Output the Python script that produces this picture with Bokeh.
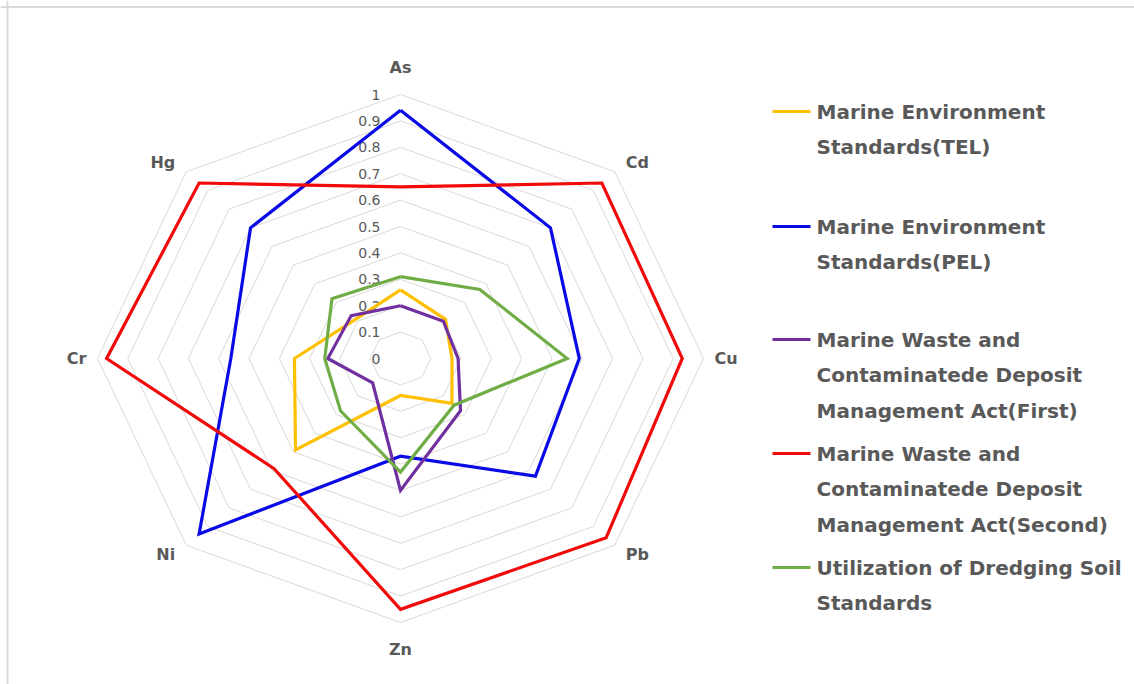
import numpy as np
from bokeh.plotting import figure
from bokeh.models import Range1d
from bokeh.core.properties import value
from bokeh.embed import file_html
from bokeh.resources import INLINE

# --- data -------------------------------------------------------------
categories = ["As", "Cd", "Cu", "Pb", "Zn", "Ni", "Cr", "Hg"]
tick_values = [0.0, 0.1, 0.2, 0.3, 0.4, 0.5, 0.6, 0.7, 0.8, 0.9, 1.0]
tick_labels = ["0", "0.1", "0.2", "0.3", "0.4", "0.5", "0.6", "0.7", "0.8", "0.9", "1"]

series_names = [
    ["Marine Environment", "Standards(TEL)"],
    ["Marine Environment", "Standards(PEL)"],
    ["Marine Waste and", "Contaminatede Deposit", "Management Act(First)"],
    ["Marine Waste and", "Contaminatede Deposit", "Management Act(Second)"],
    ["Utilization of Dredging Soil", "Standards"],
]
tel = [0.26, 0.21, 0.17, 0.24, 0.14, 0.49, 0.35, 0.21]
pel = [0.94, 0.70, 0.59, 0.63, 0.37, 0.94, 0.56, 0.70]
first_act = [0.20, 0.20, 0.19, 0.28, 0.50, 0.13, 0.24, 0.23]
second_act = [0.65, 0.94, 0.93, 0.96, 0.95, 0.59, 0.97, 0.94]
dredging = [0.31, 0.37, 0.55, 0.25, 0.43, 0.28, 0.25, 0.32]
series_values = [tel, pel, first_act, second_act, dredging]
series_colors = ["#FFC000", "#0A0AE6", "#7030A0", "#F00A0A", "#70AD47"]

# --- layout -----------------------------------------------------------
W, H = 1134, 684
CX, CY = 400, 358          # radar centre in page pixels
RX, RY = 303, 264          # pixels per unit radius (horizontal / vertical)
TEXT = "#595959"
FONT = "DejaVu Sans"


def sx(px):
    return (px - CX) / RX


def sy(py):
    return (CY - py) / RY


p = figure(width=W, height=H,
           x_range=Range1d(sx(0), sx(W)), y_range=Range1d(sy(H), sy(0)),
           x_axis_location=None, y_axis_location=None,
           output_backend="svg", toolbar_location=None,
           min_border=0, outline_line_color=None,
           background_fill_color="white", border_fill_color="white")
p.grid.visible = False

n = len(categories)
theta = np.arange(n) * 2 * np.pi / n
sin_t, cos_t = np.sin(theta), np.cos(theta)

# chart border (top and left edges)
p.segment(x0=[sx(0), sx(7)], y0=[sy(6.5), sy(0)],
          x1=[sx(W), sx(7)], y1=[sy(6.5), sy(H)],
          line_color="#d9d9d9", line_width=2)

# octagonal grid rings
ring_xs, ring_ys = [], []
for v in tick_values[1:]:
    ring_xs.append(list(np.append(v * sin_t, v * sin_t[0])))
    ring_ys.append(list(np.append(v * cos_t, v * cos_t[0])))
p.multi_line(ring_xs, ring_ys, line_color="#d9d9d9", line_width=1)

# radial value labels along the first spoke
p.text(x=[0.0] * len(tick_values), y=tick_values, text=tick_labels,
       text_align="right", text_baseline="middle", x_offset=-20,
       text_font=value(FONT), text_font_size="14px", text_color=TEXT)

# category labels around the outside
for i, cat in enumerate(categories):
    s, c = sin_t[i], cos_t[i]
    if abs(s) < 1e-6:
        align = "center"
        base = "bottom" if c > 0 else "top"
        xo, yo = 0, (-18 if c > 0 else 17)
    else:
        align = "left" if s > 0 else "right"
        base = "middle"
        xo = 11 if s > 0 else -11
        yo = 0 if abs(c) < 1e-6 else (-9 if c > 0 else 9)
    p.text(x=[s], y=[c], text=[cat], text_align=align, text_baseline=base,
           x_offset=xo, y_offset=yo, text_font=value(FONT),
           text_font_style="bold", text_font_size="16px", text_color=TEXT)

# data series
for vals, col in zip(series_values, series_colors):
    r = np.array(vals + vals[:1])
    xs = r * np.append(sin_t, sin_t[0])
    ys = r * np.append(cos_t, cos_t[0])
    p.line(xs, ys, line_color=col, line_width=3.2, line_join="miter")

# legend
entry_top = [111, 226, 339, 453, 567]
row_gap = 35.8
for names, col, ty in zip(series_names, series_colors, entry_top):
    p.segment(x0=[sx(772)], y0=[sy(ty)], x1=[sx(810)], y1=[sy(ty)],
              line_color=col, line_width=3)
    p.text(x=[sx(816)] * len(names),
           y=[sy(ty + k * row_gap) for k in range(len(names))],
           text=names, text_align="left", text_baseline="middle",
           text_font=value(FONT), text_font_style="bold",
           text_font_size="20px", text_color=TEXT)

open("out.html", "w").write(file_html(p, INLINE))
